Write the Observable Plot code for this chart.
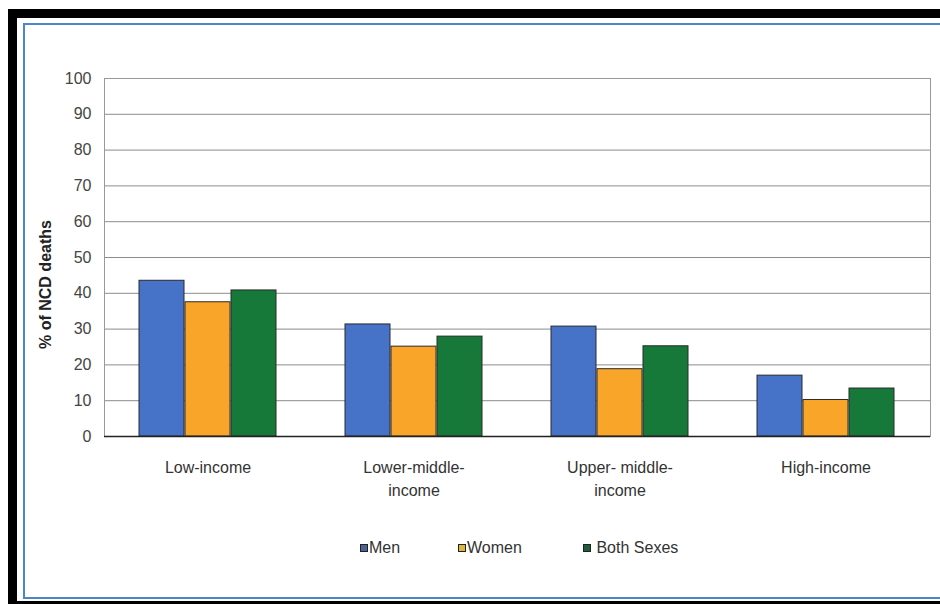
<!DOCTYPE html>
<html><head><meta charset="utf-8">
<script src="https://cdn.jsdelivr.net/npm/d3@7"></script>
<script src="https://cdn.jsdelivr.net/npm/@observablehq/plot@0.6"></script>
<style>
body{margin:0;background:#fff;width:940px;height:604px;overflow:hidden;position:relative;font-family:"Liberation Sans",Arial,sans-serif;}
#frame{position:absolute;left:8px;top:9px;width:1000px;height:583px;border:9px solid #000;}
#inner{position:absolute;left:23px;top:23px;width:1000px;height:572px;border:2px solid #4a86c8;}
#chart{position:absolute;left:0;top:0;}
#legend{position:absolute;top:538px;left:0;width:940px;height:20px;font-size:16px;color:#333;}
.item{position:absolute;top:0;display:flex;align-items:center;height:20px;}
.sw{width:6px;height:6px;border:1px solid #222;margin-right:1px;}
</style>
</head><body>
<div id="frame"></div>
<div id="inner"></div>
<div id="chart"></div>
<div id="legend"></div>
<script>
const categories = ["Low-income", "Lower-middle-\nincome", "Upper- middle-\nincome", "High-income"];
const series = ["Men", "Women", "Both Sexes"];
const men = [43.5, 31.3, 30.7, 17.0];
const women = [37.5, 25.1, 18.8, 10.2];
const both = [40.8, 27.9, 25.2, 13.4];
const yTicks = [0, 10, 20, 30, 40, 50, 60, 70, 80, 90, 100];
const colors = ["#4673c8", "#f9a52a", "#16793a"];
const swatchColors = ["#4a6296", "#d8b83a", "#1d5e3c"];
const yTitle = "% of NCD deaths";

const values = [men, women, both];
const rows = categories.flatMap((c, i) => series.map((s, j) => ({category: c, series: s, value: values[j][i]})));

const bw = 138 / 3;
const insets = [[0, 2 * bw], [bw, bw], [2 * bw, 0]];

const plot = Plot.plot({
  width: 940,
  height: 520,
  marginLeft: 104,
  marginRight: 10,
  marginTop: 78,
  marginBottom: 84,
  style: {background: "transparent", fontFamily: "'Liberation Sans', Arial, sans-serif", fontSize: "16px", color: "#444"},
  x: {domain: categories, paddingInner: 1/3, paddingOuter: 1/6, label: null},
  y: {domain: [0, 100], ticks: yTicks, tickSize: 0, tickPadding: 13, label: null},
  color: {domain: series, range: colors},
  marks: [
    Plot.ruleY(yTicks.filter(d => d > 0), {stroke: "#8c8c8c", strokeOpacity: 1}),
    Plot.frame({stroke: "#999"}),
    ...series.map((s, j) => Plot.barY(rows.filter(r => r.series === s), {
      x: "category", y: "value", fill: "series",
      stroke: "#2a2a2a", strokeWidth: 1,
      insetLeft: insets[j][0], insetRight: insets[j][1]
    })),
    Plot.ruleX([0], {frameAnchor: "left", stroke: "#222", strokeWidth: 1.5}),
    Plot.ruleY([0], {stroke: "#222", strokeWidth: 1.5}),
    Plot.axisX({tickSize: 0, tickPadding: 21, lineHeight: 1.4, label: null, fontSize: 16, fill: "#333"}),
    Plot.text([yTitle], {frameAnchor: "left", textAnchor: "middle", rotate: -90, dx: -59, dy: 27, fontWeight: "bold", fontSize: 16, fill: "#222"})
  ]
});
document.getElementById("chart").appendChild(plot);

const legendX = [360, 458, 583];
const legend = document.getElementById("legend");
series.forEach((s, j) => {
  const item = document.createElement("div");
  item.className = "item";
  item.style.left = legendX[j] + "px";
  const sw = document.createElement("span");
  sw.className = "sw";
  sw.style.background = swatchColors[j];
  const t = document.createElement("span");
  t.textContent = (j === 2 ? "\u00a0" : "") + s;
  item.appendChild(sw);
  item.appendChild(t);
  legend.appendChild(item);
});
</script>
</body></html>
